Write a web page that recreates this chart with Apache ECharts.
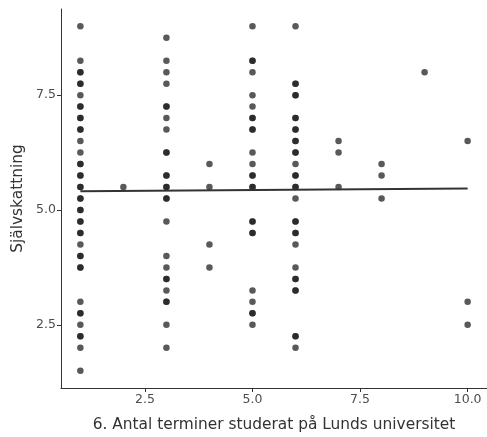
<!DOCTYPE html>
<html>
<head>
<meta charset="utf-8">
<script src="https://cdn.jsdelivr.net/npm/echarts@6/dist/echarts.min.js"></script>
<style>
html,body{margin:0;padding:0;background:#fff;}
#main{width:487px;height:437px;}
</style>
</head>
<body>
<div id="main"></div>
<script>
// x-värden (antal terminer) och y-värden (självskattning), en rad per kolumn
var terminer = [1, 2, 3, 4, 5, 6, 7, 8, 9, 10];
var skattning = [
	[9.0, 8.25, 8.0, 8.0, 7.75, 7.75, 7.5, 7.25, 7.25, 7.0, 7.0, 6.75, 6.75, 6.5, 6.25, 6.0, 6.0, 5.75, 5.75, 5.5, 5.5, 5.25, 5.25, 5.0, 5.0, 4.75, 4.75, 4.5, 4.5, 4.25, 4.0, 4.0, 3.75, 3.75, 3.0, 2.75, 2.75, 2.5, 2.25, 2.25, 2.0, 1.5],
	[5.5],
	[8.75, 8.25, 8.0, 7.75, 7.25, 7.25, 7.0, 6.75, 6.25, 6.25, 5.75, 5.75, 5.5, 5.5, 5.25, 5.25, 4.75, 4.0, 3.75, 3.5, 3.5, 3.25, 3.0, 3.0, 2.5, 2.0],
	[6.0, 5.5, 4.25, 3.75],
	[9.0, 8.25, 8.25, 8.0, 7.5, 7.25, 7.0, 7.0, 6.75, 6.75, 6.25, 6.0, 5.75, 5.75, 5.5, 5.5, 4.75, 4.75, 4.5, 4.5, 3.25, 3.0, 2.75, 2.75, 2.5],
	[9.0, 7.75, 7.75, 7.5, 7.5, 7.0, 7.0, 6.75, 6.75, 6.5, 6.5, 6.25, 6.25, 6.0, 5.75, 5.75, 5.5, 5.5, 5.25, 4.75, 4.75, 4.5, 4.5, 4.25, 3.75, 3.5, 3.5, 3.25, 3.25, 2.25, 2.25, 2.0],
	[6.5, 6.25, 5.5],
	[6.0, 5.75, 5.25],
	[8.0],
	[6.5, 3.0, 2.5]
];
// regressionslinjen avläst i bilden (vid x = 1 och x = 10)
var linjeX = [1, 10];
var linjeY = [5.41, 5.47];
var xTicks = [2.5, 5.0, 7.5, 10.0];
var yTicks = [2.5, 5.0, 7.5];

var punkter = [];
for (var i = 0; i < terminer.length; i++) {
	for (var j = 0; j < skattning[i].length; j++) {
		punkter.push([terminer[i], skattning[i][j]]);
	}
}
var linje = [];
for (var k = 0; k < linjeX.length; k++) {
	linje.push([linjeX[k], linjeY[k]]);
}

var myChart = echarts.init(document.getElementById('main'));
var font = 'DejaVu Sans';
var option = {
	animation: false,
	grid: { left: 61, right: -2, top: 9, bottom: 46 },
	xAxis: {
		type: 'value',
		min: 0.55,
		max: 10.45,
		name: '6. Antal terminer studerat på Lunds universitet',
		nameLocation: 'middle',
		nameGap: 29,
		nameTextStyle: { fontFamily: font, fontSize: 15.4, color: '#333' },
		splitLine: { show: false },
		axisLine: { lineStyle: { color: '#333', width: 1 } },
		axisTick: { show: true, length: 4, customValues: xTicks, lineStyle: { color: '#333' } },
		axisLabel: {
			customValues: xTicks,
			fontFamily: font, fontSize: 12.5, color: '#4d4d4d', margin: 5,
			formatter: function (v) { return v.toFixed(1); }
		}
	},
	yAxis: {
		type: 'value',
		min: 1.125,
		max: 9.375,
		name: 'Självskattning',
		nameLocation: 'middle',
		nameGap: 36,
		nameTextStyle: { fontFamily: font, fontSize: 15.4, color: '#333' },
		splitLine: { show: false },
		axisLine: { show: true, lineStyle: { color: '#333', width: 1 } },
		axisTick: { show: true, length: 4, customValues: yTicks, lineStyle: { color: '#333' } },
		axisLabel: {
			customValues: yTicks,
			fontFamily: font, fontSize: 12.5, color: '#4d4d4d', margin: 5,
			formatter: function (v) { return v.toFixed(1); }
		}
	},
	series: [
		{
			type: 'scatter',
			data: punkter,
			symbolSize: 6.5,
			itemStyle: { color: '#1c1c1c', opacity: 0.73 }
		},
		{
			type: 'line',
			data: linje,
			symbol: 'none',
			lineStyle: { color: '#333', width: 2 },
			z: 3
		}
	]
};
myChart.setOption(option);
</script>
</body>
</html>
